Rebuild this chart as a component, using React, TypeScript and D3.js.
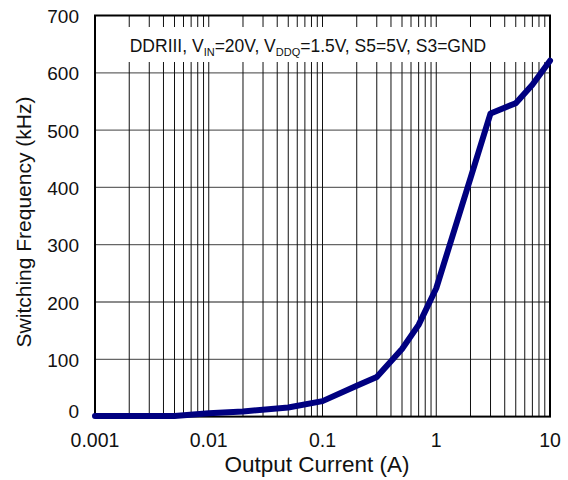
import React from "react";
import * as d3 from "d3";

const currents = [0.001, 0.005, 0.01, 0.02, 0.05, 0.1, 0.2, 0.3, 0.5, 0.7, 1, 2, 3, 5, 7, 10];
const freqs = [1, 1, 6, 9, 16, 27, 54, 69, 118, 160, 224, 416, 529, 547, 579, 621];
const xTicks = [0.001, 0.01, 0.1, 1, 10];
const xTickLabels = ["0.001", "0.01", "0.1", "1", "10"];
const yTicks = [0, 100, 200, 300, 400, 500, 600, 700];

const W = 568, H = 480;
const L = 95, R = 550, T = 15.5, B = 416.6;

export default function App() {
  const x = d3.scaleLog().domain([0.001, 10]).range([L, R]);
  const y = d3.scaleLinear().domain([0, 700]).range([B, T]);
  const minor: number[] = [];
  for (let e = -3; e < 1; e++) {
    for (let m = 1; m < 10; m++) {
      const v = m * Math.pow(10, e);
      if (v > 0.001 && v < 10) minor.push(v);
    }
  }
  const line = d3.line<number>().x((_, i) => x(currents[i])).y((d) => y(d));
  const font = "Arial, 'Liberation Sans', Helvetica, sans-serif";
  return (
    <div style={{ position: "absolute", left: 0, top: 0 }}>
      <svg width={W} height={H} style={{ display: "block", background: "#fff" }} fontFamily={font}>
        {yTicks.filter((t) => t > 0 && t < 700).map((t) => (
          <line key={"h" + t} x1={L} x2={R} y1={y(t)} y2={y(t)} stroke="#666" strokeWidth={1.3} />
        ))}
        {minor.map((v, i) => (
          <line key={"v" + i} x1={x(v)} x2={x(v)} y1={T} y2={B} stroke="#111" strokeWidth={1} />
        ))}
        <rect x={L + 1} y={27} width={R - L - 2} height={35} fill="#fff" />
        <text x={308} y={52} fontSize={17.5} textAnchor="middle" fill="#111">
          <tspan>DDRIII, V</tspan>
          <tspan fontSize={11} dy={4}>IN</tspan>
          <tspan dy={-4}>=20V, V</tspan>
          <tspan fontSize={11} dy={4}>DDQ</tspan>
          <tspan dy={-4}>=1.5V, S5=5V, S3=GND</tspan>
        </text>
        <rect x={L} y={T} width={R - L} height={B - T} fill="none" stroke="#000" strokeWidth={2} />
        <path d={line(freqs) || ""} fill="none" stroke="#000080" strokeWidth={6} strokeLinejoin="round" strokeLinecap="round" />
        {yTicks.map((t) => (
          <text key={"yl" + t} x={79} y={y(t) + (t === 0 ? 1 : 7.5)} fontSize={19} textAnchor="end" fill="#111">
            {t}
          </text>
        ))}
        {xTicks.map((t, i) => (
          <text key={"xl" + t} x={x(t)} y={446.5} fontSize={19.5} textAnchor="middle" fill="#111">
            {xTickLabels[i]}
          </text>
        ))}
        <text x={317} y={472} fontSize={22.5} textAnchor="middle" fill="#111">Output Current (A)</text>
        <text transform="translate(31,222) rotate(-90)" fontSize={21} textAnchor="middle" fill="#111">
          Switching Frequency (kHz)
        </text>
      </svg>
    </div>
  );
}
